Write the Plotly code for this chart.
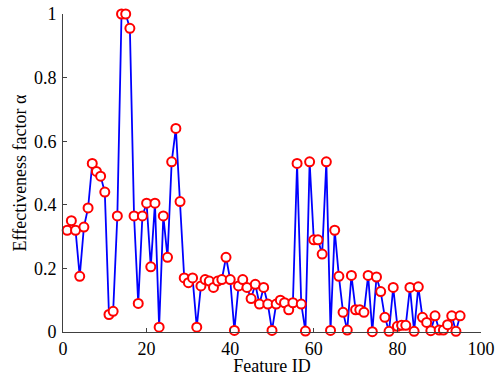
import plotly.graph_objects as go

feature_id = list(range(1, 96))
alpha = [
    0.32, 0.35, 0.32, 0.175, 0.33, 0.39, 0.53, 0.505, 0.49, 0.44,
    0.055, 0.065, 0.365, 1.0, 1.0, 0.955, 0.365, 0.09, 0.365, 0.405,
    0.205, 0.405, 0.015, 0.365, 0.235, 0.535, 0.64, 0.41, 0.17, 0.155,
    0.17, 0.015, 0.145, 0.165, 0.16, 0.14, 0.16, 0.165, 0.235, 0.165,
    0.005, 0.145, 0.165, 0.14, 0.105, 0.15, 0.088, 0.14, 0.088, 0.005,
    0.088, 0.1, 0.092, 0.07, 0.092, 0.53, 0.088, 0.003, 0.535, 0.29,
    0.29, 0.245, 0.535, 0.005, 0.32, 0.175, 0.062, 0.006, 0.178, 0.07,
    0.07, 0.062, 0.178, 0.001, 0.173, 0.127, 0.046, 0.002, 0.14, 0.018,
    0.021, 0.021, 0.14, 0.002, 0.142, 0.046, 0.03, 0.004, 0.051, 0.006,
    0.006, 0.023, 0.051, 0.002, 0.051,
]
x_ticks = [0, 20, 40, 60, 80, 100]
y_ticks = [0, 0.2, 0.4, 0.6, 0.8, 1]
y_tick_text = ["0", "0.2", "0.4", "0.6", "0.8", "1"]

fig = go.Figure()
fig.add_trace(go.Scatter(
    x=feature_id, y=alpha, mode="lines+markers",
    line=dict(color="#0000ff", width=1.8),
    marker=dict(symbol="circle", size=9, color="#ffffff",
                line=dict(width=2, color="#ff0000")),
    cliponaxis=False, showlegend=False,
))

font = dict(family="Liberation Serif", size=18, color="#000000")
axis_common = dict(
    showgrid=False, zeroline=False, showline=True, linecolor="#404040", linewidth=1,
    ticks="inside", ticklen=4, tickcolor="#404040", tickfont=font,
    mirror=False, automargin=False,
)
fig.update_layout(
    width=497, height=376,
    margin=dict(l=63, r=16, t=14, b=44),
    paper_bgcolor="white", plot_bgcolor="white",
    font=font,
    xaxis=dict(range=[0, 100], tickvals=x_ticks,
               title=dict(text="Feature ID", font=font, standoff=0), **axis_common),
    yaxis=dict(range=[0, 1], tickvals=y_ticks, ticktext=y_tick_text,
               title=dict(text="Effectiveness factor α", font=font, standoff=2),
               ticklabelstandoff=2, **axis_common),
)
fig.write_html("out.html")
